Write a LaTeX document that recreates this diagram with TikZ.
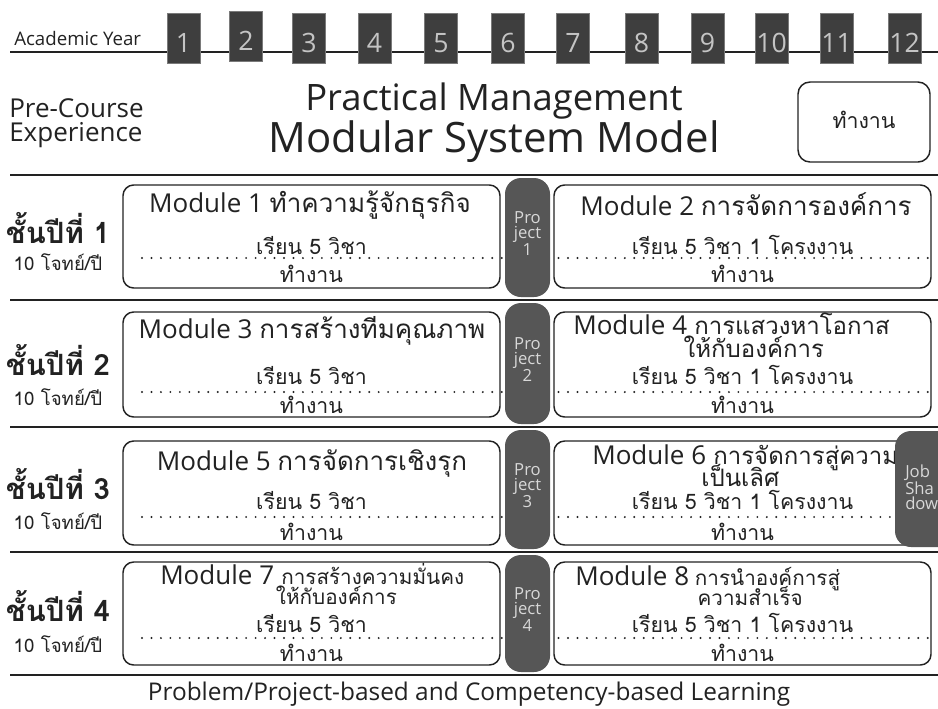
\documentclass[tikz,border=0pt]{standalone}
\usepackage{fontspec}
\setmainfont{Open Sans}
\newfontfamily\thaif[Script=Thai]{Loma}
\newcommand\tht[1]{{\thaif #1}}
\definecolor{yrfill}{HTML}{3E3E3E}
\definecolor{yredge}{HTML}{7A7A7A}
\definecolor{yrtext}{HTML}{C4C4C4}
\definecolor{pillfill}{HTML}{565656}
\definecolor{pilltext}{HTML}{D8D8D8}
\definecolor{ink}{HTML}{222222}
\tikzset{
  yearbox/.style={fill=yrfill, draw=yredge, line width=0.6pt, minimum width=24.75pt, minimum height=37.5pt, inner sep=0pt, text=yrtext, font=\fontsize{20}{20}\selectfont, text height=22pt, text depth=0pt},
  modbox/.style={draw=ink, line width=1.1pt, rounded corners=8pt, minimum width=282.75pt, inner sep=0pt},
  pill/.style={fill=pillfill, draw=none, rounded corners=12pt, minimum width=33.75pt, inner sep=0pt},
  pilltxt/.style={text=pilltext, align=center, font=\fontsize{12.5}{11}\selectfont, inner sep=0pt},
  rowline/.style={draw=ink, line width=2.2pt},
  dotline/.style={draw=ink, line width=1.6pt, dash pattern=on 0pt off 7.1pt, line cap=round},
  modtitle/.style={font=\fontsize{19.5}{19.5}\selectfont, text=ink, inner sep=0pt, anchor=base},
  modsub/.style={font=\thaif\fontsize{16}{16}\selectfont, text=ink, inner sep=0pt, anchor=base},
  yrlabel/.style={font=\thaif\bfseries\fontsize{22}{22}\selectfont, text=ink, inner sep=0pt, anchor=base},
  quest/.style={font=\thaif\fontsize{14}{14}\selectfont, text=ink, inner sep=0pt, anchor=base},
  thaimid/.style={font=\thaif\fontsize{18}{18}\selectfont},
  thaismall/.style={font=\thaif\fontsize{15.5}{15.5}\selectfont},
}
\begin{document}
\begin{tikzpicture}[x=0.75pt,y=-0.75pt]
\useasboundingbox (0,0) rectangle (938,708);
\clip (0,0) rectangle (938,708);
\fill[white] (0,0) rectangle (938,708);
% academic year line
\coordinate (ayl) at (10,52);
\coordinate (ayr) at (938,52);
\draw[draw=ink, line width=1.6pt] (ayl) -- (ayr);
\node[anchor=base west, inner sep=0pt, font=\fontsize{14}{14}\selectfont, text=ink] (ay) at (14,45) {Academic Year};
\foreach \i/\xx/\yy in {1/183.5/38,2/246/36,3/309/38,4/374.5/38,5/441/38,6/508/38,7/573/38,8/641.5/38,9/707.5/38,10/771.5/38,11/836.5/38,12/904.5/38}{
  \node[yearbox] (y\i) at (\xx,\yy) {\i};
}
% header
\node[anchor=base west, inner sep=0pt, font=\fontsize{19.5}{19.5}\selectfont, text=ink] (pc1) at (9,117) {Pre-Course};
\node[anchor=base west, inner sep=0pt, font=\fontsize{19.5}{19.5}\selectfont, text=ink] (pc2) at (9,141) {Experience};
\node[anchor=base, inner sep=0pt, font=\fontsize{27.3}{27.3}\selectfont, text=ink] (t1) at (494,110) {Practical Management};
\node[anchor=base, inner sep=0pt, font=\fontsize{31.4}{31.4}\selectfont, text=ink] (t2) at (494,152) {Modular System Model};
\node[draw=ink, line width=1.1pt, rounded corners=9pt, minimum width=99pt, minimum height=60pt, inner sep=0pt] (w0) at (864,122) {};
\node[modsub] (w0t) at (864,128) {ทำงาน};
% row lines
\foreach \k/\yy in {0/175,1/300,2/427,3/552,4/675}{
  \coordinate (rl\k) at (10,\yy);
  \coordinate (rr\k) at (938,\yy);
  \draw[rowline] (rl\k) -- (rr\k);
}
% rows: r / box top / box bottom / pill top / pill bottom / sub base / dots / work base / label base / quest base
\foreach \r/\bt/\bb/\pt/\pb/\sb/\dy/\wb/\lb/\qb in {
  1/185/288/178/297/254/258/282/243/270,
  2/312/417/303/424/384/392/413/375/405,
  3/441/545/430/549/509/517/540/499/529,
  4/562/665/555/672/632/638/661/621/652}{
  \node[yrlabel] (yr\r) at (58,\lb) {ชั้นปีที่ \r};
  \node[quest] (q\r) at (58,\qb) {10 โจทย์/ปี};
  \coordinate (dl\r) at (142,\dy);
  \coordinate (dr\r) at (931,\dy);
  \draw[dotline] (dl\r) -- (dr\r);
  \node[modbox, minimum height={(\bb-\bt)*0.75pt}] (ml\r) at (311.5,{(\bt+\bb)/2}) {};
  \node[modbox, minimum height={(\bb-\bt)*0.75pt}] (mr\r) at (742.5,{(\bt+\bb)/2}) {};
  \node[pill, minimum height={(\pb-\pt)*0.75pt}] (p\r) at (527.5,{(\pt+\pb)/2}) {};
  \node[pilltxt] (pt\r) at (527.5,{(\pt+\pb)/2-4}) {Pro\\ject\\\r};
  \node[modsub] (wl\r) at (311.5,\wb) {ทำงาน};
  \node[modsub] (wr\r) at (742.5,\wb) {ทำงาน};
  \node[modsub] (sl\r) at (311.5,\sb) {เรียน 5 วิชา};
  \node[modsub] (sr\r) at (742.5,\sb) {เรียน 5 วิชา 1 โครงงาน};
}
% module titles
\node[modtitle] (m1) at (310,212) {Module 1 \tht{ทำความรู้จักธุรกิจ}};
\node[modtitle] (m2) at (746,215) {Module 2 \tht{การจัดการองค์การ}};
\node[modtitle] (m3) at (312,338) {Module 3 \tht{การสร้างทีมคุณภาพ}};
\node[modtitle] (m5) at (312,470) {Module 5 \tht{การจัดการเชิงรุก}};
% two-line titles
\node[modtitle, anchor=base west] (m4l) at (573,334) {Module 4};
\node[modtitle, anchor=base west, thaimid] (m4t) at ([xshift=5pt]m4l.base east) {การแสวงหาโอกาส};
\node[modtitle, anchor=base west, thaimid] (m4u) at ([xshift=-8pt,yshift=-17.5pt]m4t.base west) {ให้กับองค์การ};
\node[modtitle, anchor=base west] (m6l) at (592,464) {Module 6};
\node[modtitle, anchor=base west, thaimid] (m6t) at ([xshift=5pt]m6l.base east) {การจัดการสู่ความ};
\node[modtitle, anchor=base west, thaimid] (m6u) at ([xshift=-9pt,yshift=-17pt]m6t.base west) {เป็นเลิศ};
\node[modtitle, anchor=base west] (m7l) at (160,584) {Module 7};
\node[modtitle, anchor=base west, thaismall] (m7t) at ([xshift=5pt]m7l.base east) {การสร้างความมั่นคง};
\node[modtitle, anchor=base west, thaismall] (m7u) at ([xshift=-4pt,yshift=-15pt]m7t.base west) {ให้กับองค์การ};
\node[modtitle, anchor=base west] (m8l) at (575,585) {Module 8};
\node[modtitle, anchor=base west, thaismall] (m8t) at ([xshift=4pt]m8l.base east) {การนำองค์การสู่};
\node[modtitle, anchor=base west, thaismall] (m8u) at ([xshift=2pt,yshift=-15pt]m8t.base west) {ความสำเร็จ};
% job shadow
\node[pill, minimum width=45pt, minimum height=87pt] (js) at (925,489) {};
\node[pilltxt, anchor=west, align=left] (jst) at (905,487) {Job\\Sha\\dow};
% footer
\node[anchor=base, inner sep=0pt, font=\fontsize{18.3}{18.3}\selectfont, text=ink] (foot) at (469,700) {Problem/Project-based and Competency-based Learning};
\end{tikzpicture}
\end{document}
